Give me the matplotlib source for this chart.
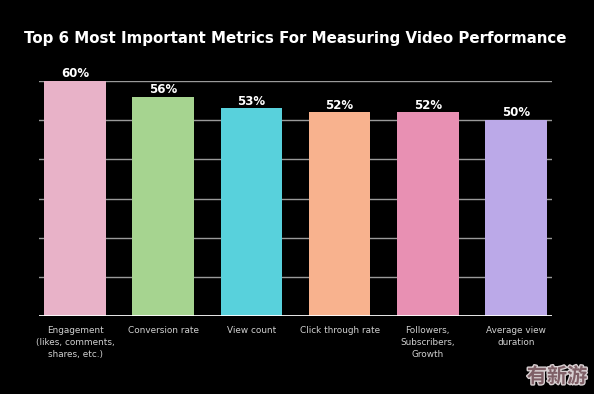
import matplotlib
matplotlib.use("Agg")
import matplotlib.pyplot as plt
import matplotlib.patheffects as pe

categories = ["Engagement\n(likes, comments,\nshares, etc.)", "Conversion rate", "View count",
              "Click through rate", "Followers,\nSubscribers,\nGrowth", "Average view\nduration"]
values = [60, 56, 53, 52, 52, 50]
value_labels = ["60%", "56%", "53%", "52%", "52%", "50%"]
colors = ["#E8B2C8", "#A6D490", "#58D1DC", "#F8B28E", "#E890B3", "#BBA9E8"]
yticks = [0, 10, 20, 30, 40, 50, 60]

fig = plt.figure(figsize=(5.94, 3.94), dpi=100, facecolor="black")
ax = fig.add_axes([39/594, 1-316/394, (552-39)/594, (316-81)/394])
ax.set_facecolor("black")

x = list(range(len(values)))
for yv in yticks[1:]:
    ax.axhline(yv, color="#9a9a9a", lw=1.0, zorder=1)
ax.bar(x, values, width=0.70, color=colors, zorder=2)
ax.axhline(0, color="white", lw=2.0, zorder=3)

for xi, v, lab in zip(x, values, value_labels):
    ax.text(xi, v + 0.2, lab, ha="center", va="bottom", color="white",
            fontsize=8.5, fontweight="bold", zorder=4)

ax.set_xlim(-0.41, 5.41)
ax.set_ylim(0, 60)
ax.set_xticks([])
ax.set_yticks([])
for s in ax.spines.values():
    s.set_visible(False)

for xi, c in zip(x, categories):
    ax.text(xi, -2.5, c, ha="center", va="top", color="#d0d0d0", fontsize=6.4,
            linespacing=1.42, transform=ax.transData, clip_on=False)

fig.text(295/594, 1-38/394, "Top 6 Most Important Metrics For Measuring Video Performance",
         ha="center", va="center", color="white", fontsize=10.85, fontweight="bold")

fig.text(557/594, 1-376/394, "有新游", ha="center", va="center", color="#7e5f66",
         fontsize=14.5, fontweight="bold", family=["Noto Sans CJK SC", "DejaVu Sans"],
         path_effects=[pe.withStroke(linewidth=2, foreground="#d8d0d2")])

fig.savefig("out.png", dpi=100, facecolor="black")
